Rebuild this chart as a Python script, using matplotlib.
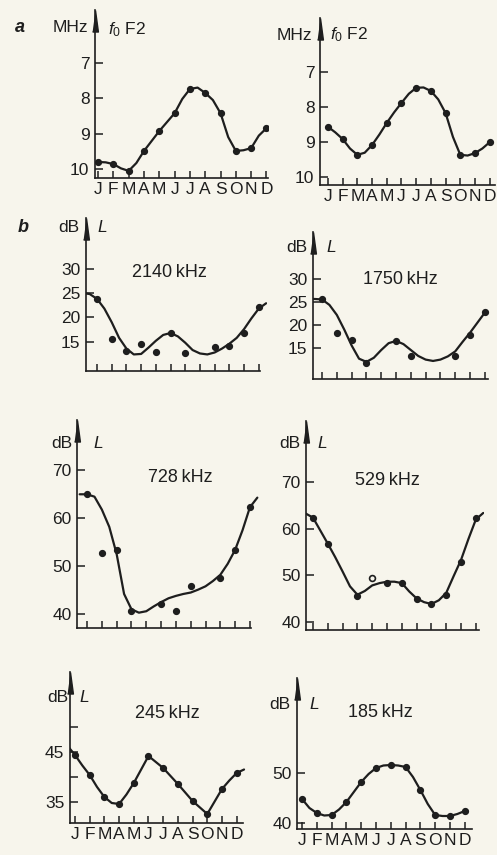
import numpy as np
import matplotlib
matplotlib.use("Agg")
import matplotlib.pyplot as plt

W, H = 497, 855
INK = "#1e1e1e"
PAPER = "#f7f5ec"

plt.rcParams["font.family"] = ["Liberation Sans", "DejaVu Sans"]
plt.rcParams["mathtext.fontset"] = "custom"
plt.rcParams["mathtext.rm"] = "Liberation Sans"
plt.rcParams["mathtext.it"] = "Liberation Sans:italic"

nan = np.nan
MONTHS = ["J", "F", "M", "A", "M", "J", "J", "A", "S", "O", "N", "D"]

# a: critical frequency foF2 (MHz), monthly values and the drawn curve (half-month steps)
fof2_left_pts = [9.79, 9.85, 10.04, 9.48, 8.92, 8.42, 7.74, 7.85, 8.42, 9.48, 9.40, 8.84]
fof2_left_curve = [9.79, 9.80, 9.85, 9.97, 10.04, 9.82, 9.48, 9.20, 8.92, 8.67, 8.42, 8.02,
                   7.74, 7.70, 7.85, 8.05, 8.42, 9.09, 9.48, 9.46, 9.40, 9.05, 8.84]
fof2_right_pts = [8.56, 8.91, 9.36, 9.08, 8.45, 7.88, 7.45, 7.54, 8.17, 9.36, 9.31, 9.00]
fof2_right_curve = [8.56, 8.72, 8.91, 9.18, 9.36, 9.30, 9.08, 8.78, 8.45, 8.15, 7.88, 7.62,
                    7.45, 7.44, 7.54, 7.78, 8.17, 8.85, 9.36, 9.38, 9.31, 9.18, 9.00]

# b: field strength L (dB) for six frequencies
l2140_pts = [23.8, 15.6, 13.2, 14.6, 13.0, 16.8, 12.7, nan, 14.0, 14.2, 16.8, 22.2]
l2140_curve = [25.0, 24.8, 23.8, 21.8, 19.0, 15.8, 13.6, 12.4, 12.5, 13.8, 15.2, 16.4, 16.8,
               16.1, 14.8, 13.3, 12.6, 12.4, 12.8, 13.6, 14.6, 15.8, 17.6, 19.8, 21.8, 22.9]
l1750_pts = [25.7, 18.2, 16.7, 11.6, nan, 16.5, 13.2, nan, nan, 13.2, 17.8, 22.8]
l1750_curve = [25.7, 25.7, 25.6, 24.4, 22.2, 19.0, 15.5, 12.6, 11.9, 12.8, 14.5, 16.0, 16.5,
               15.8, 14.5, 13.2, 12.4, 12.1, 12.4, 13.1, 14.2, 16.3, 18.3, 20.5, 22.7]
l728_pts = [65.0, 52.8, 53.4, 40.7, nan, 42.2, 40.7, 45.9, nan, 47.6, 53.4, 62.3]
l728_curve = [65.0, 65.0, 64.5, 61.8, 58.2, 52.5, 44.2, 41.0, 40.3, 40.6, 41.6, 42.5, 43.3,
              43.8, 44.2, 44.5, 45.1, 45.8, 46.9, 48.2, 50.5, 53.4, 57.5, 62.3, 64.3]
l529_pts = [62.4, 56.8, nan, 45.5, nan, 48.4, 48.3, 44.8, 43.9, 45.7, 52.8, 62.4]
l529_open = [nan, nan, nan, nan, 49.3, nan, nan, nan, nan, nan, nan, nan]
l529_curve = [63.3, 62.4, 59.6, 56.8, 53.9, 50.8, 47.6, 45.8, 46.6, 47.8, 48.3, 48.6, 48.6,
              48.3, 46.5, 45.0, 44.2, 43.8, 44.6, 46.2, 49.8, 53.3, 57.8, 62.0, 63.4]
l245_pts = [44.4, 40.4, 36.0, 34.6, 38.8, 44.2, 41.8, 38.6, 35.2, 32.6, 37.6, 40.8]
l245_curve = [46.2, 44.4, 42.3, 40.4, 38.0, 36.0, 34.8, 34.6, 36.5, 38.8, 41.5, 44.2, 43.0,
              41.8, 40.2, 38.6, 36.9, 35.2, 33.9, 32.6, 35.1, 37.6, 39.3, 40.8, 41.5]
l185_pts = [44.8, 42.0, 41.6, 44.2, 48.2, 51.0, 51.6, 51.2, 46.6, 41.6, 41.4, 42.4]
l185_curve = [44.8, 43.0, 42.0, 41.5, 41.6, 42.7, 44.2, 46.2, 48.2, 49.8, 51.0, 51.5, 51.6,
              51.5, 51.2, 49.2, 46.6, 43.8, 41.6, 41.4, 41.4, 41.8, 42.4]

fig = plt.figure(figsize=(W / 100, H / 100), dpi=100, facecolor=PAPER)


def px_axes(left, right, top, bottom):
    return fig.add_axes([left / W, 1 - bottom / H, (right - left) / W, (bottom - top) / H])


def label(x, y, s, **kw):
    fig.text(x / W, 1 - y / H, s, color=INK, va="center", **kw)


def draw_panel(box, xlim, ylim, x_end, pts, curve, curve_start, yticks, yticklabels,
               month_labels=False, open_pts=None):
    ax = px_axes(*box)
    ax.set_facecolor("none")
    ax.set_xlim(*xlim)
    ax.set_ylim(*ylim)
    for s in ("top", "right"):
        ax.spines[s].set_visible(False)
    for s in ("left", "bottom"):
        ax.spines[s].set_color(INK)
        ax.spines[s].set_linewidth(1.2)
    ax.spines["bottom"].set_bounds(xlim[0], x_end)

    months = np.arange(12)
    cx = curve_start + 0.5 * np.arange(len(curve))
    ax.plot(cx, curve, color=INK, lw=1.6, solid_capstyle="round", solid_joinstyle="round")
    ax.plot(months, pts, "o", color=INK, ms=4.2)
    if open_pts is not None:
        ax.plot(months, open_pts, "o", mfc=PAPER, mec=INK, mew=1.2, ms=4.2)

    ax.set_xticks(months)
    ax.set_xticklabels(MONTHS if month_labels else [])
    ax.set_yticks(yticks)
    ax.set_yticklabels(yticklabels)
    ax.tick_params(axis="both", direction="in", colors=INK, labelsize=12.5, width=1.1)
    ax.tick_params(axis="y", length=6, pad=4)
    ax.tick_params(axis="x", length=5, pad=3)

    # arrow head on top of the vertical axis
    ax.plot(0, 1, marker=[(-0.27, -2), (0.27, -2), (0, 0)], ms=31, color=INK,
            transform=ax.transAxes, clip_on=False)
    return ax


# panel a
draw_panel((95, 268, 10, 178), (-0.2, 11.1), (10.24, 5.52), 11.1,
           fof2_left_pts, fof2_left_curve, 0, [7, 8, 9, 10], ["7", "8", "9", "10"], True)
draw_panel((320, 495, 18, 185), (-0.54, 11.36), (10.22, 5.46), 11.36,
           fof2_right_pts, fof2_right_curve, 0, [7, 8, 9, 10], ["7", "8", "9", "10"], True)
label(15, 28, "a", fontsize=13, fontstyle="italic", fontweight="bold")
label(88, 28, "MHz", fontsize=12.5, ha="right")
label(108, 30, r"$f_0$ F2", fontsize=12.5, ha="left")
label(312, 35, "MHz", fontsize=12.5, ha="right")
label(330, 35, r"$f_0$ F2", fontsize=12.5, ha="left")

# panel b
label(18, 227, "b", fontsize=13, fontstyle="italic", fontweight="bold")
specs = [
    ((86, 267, 218, 371), (-0.75, 11.56), (9.0, 40.4), 11.05, l2140_pts, l2140_curve, -1.0,
     [15, 20, 25, 30], ["15", "20", "25", "30"], False, None, "2140\u2009kHz", (169, 272), (79, 97, 227)),
    ((313, 490, 232, 379), (-0.61, 11.35), (8.14, 40.4), 11.2, l1750_pts, l1750_curve, -1.0,
     [15, 20, 25, 30], ["15", "20", "25", "30"], False, None, "1750\u2009kHz", (400, 280), (307, 326, 248)),
    ((77, 260, 420, 628), (-0.68, 11.68), (37.1, 80.5), 11.05, l728_pts, l728_curve, -0.5,
     [40, 50, 60, 70], ["40", "50", "60", "70"], False, None, "728\u2009kHz", (180, 477), (72, 93, 443)),
    ((306, 484, 421, 630), (-0.47, 11.55), (38.2, 83.2), 11.2, l529_pts, l529_curve, -0.5,
     [40, 50, 60, 70], ["40", "50", "60", "70"], False, l529_open, "529\u2009kHz", (387, 480), (300, 317, 443)),
    ((70, 248, 672, 823), (-0.34, 11.77), (30.8, 61.0), 11.4, l245_pts, l245_curve, -0.5,
     [35, 40, 45, 50], ["35", "", "45", ""], True, None, "245\u2009kHz", (167, 713), (68, 79, 697)),
    ((297, 472, 678, 829), (-0.34, 11.49), (38.8, 69.0), 11.49, l185_pts, l185_curve, 0,
     [40, 50], ["40", "50"], True, None, "185\u2009kHz", (380, 712), (290, 309, 704)),
]
for (box, xlim, ylim, x_end, pts, curve, c0, yt, ytl, mlab, opn, freq, fpos, unit) in specs:
    draw_panel(box, xlim, ylim, x_end, pts, curve, c0, yt, ytl, mlab, opn)
    label(fpos[0], fpos[1], freq, fontsize=13, ha="center")
    label(unit[0], unit[2], "dB", fontsize=12.5, ha="right")
    label(unit[1], unit[2], "L", fontsize=12.5, ha="left", fontstyle="italic")

fig.savefig("out.png", dpi=100, facecolor=PAPER)
